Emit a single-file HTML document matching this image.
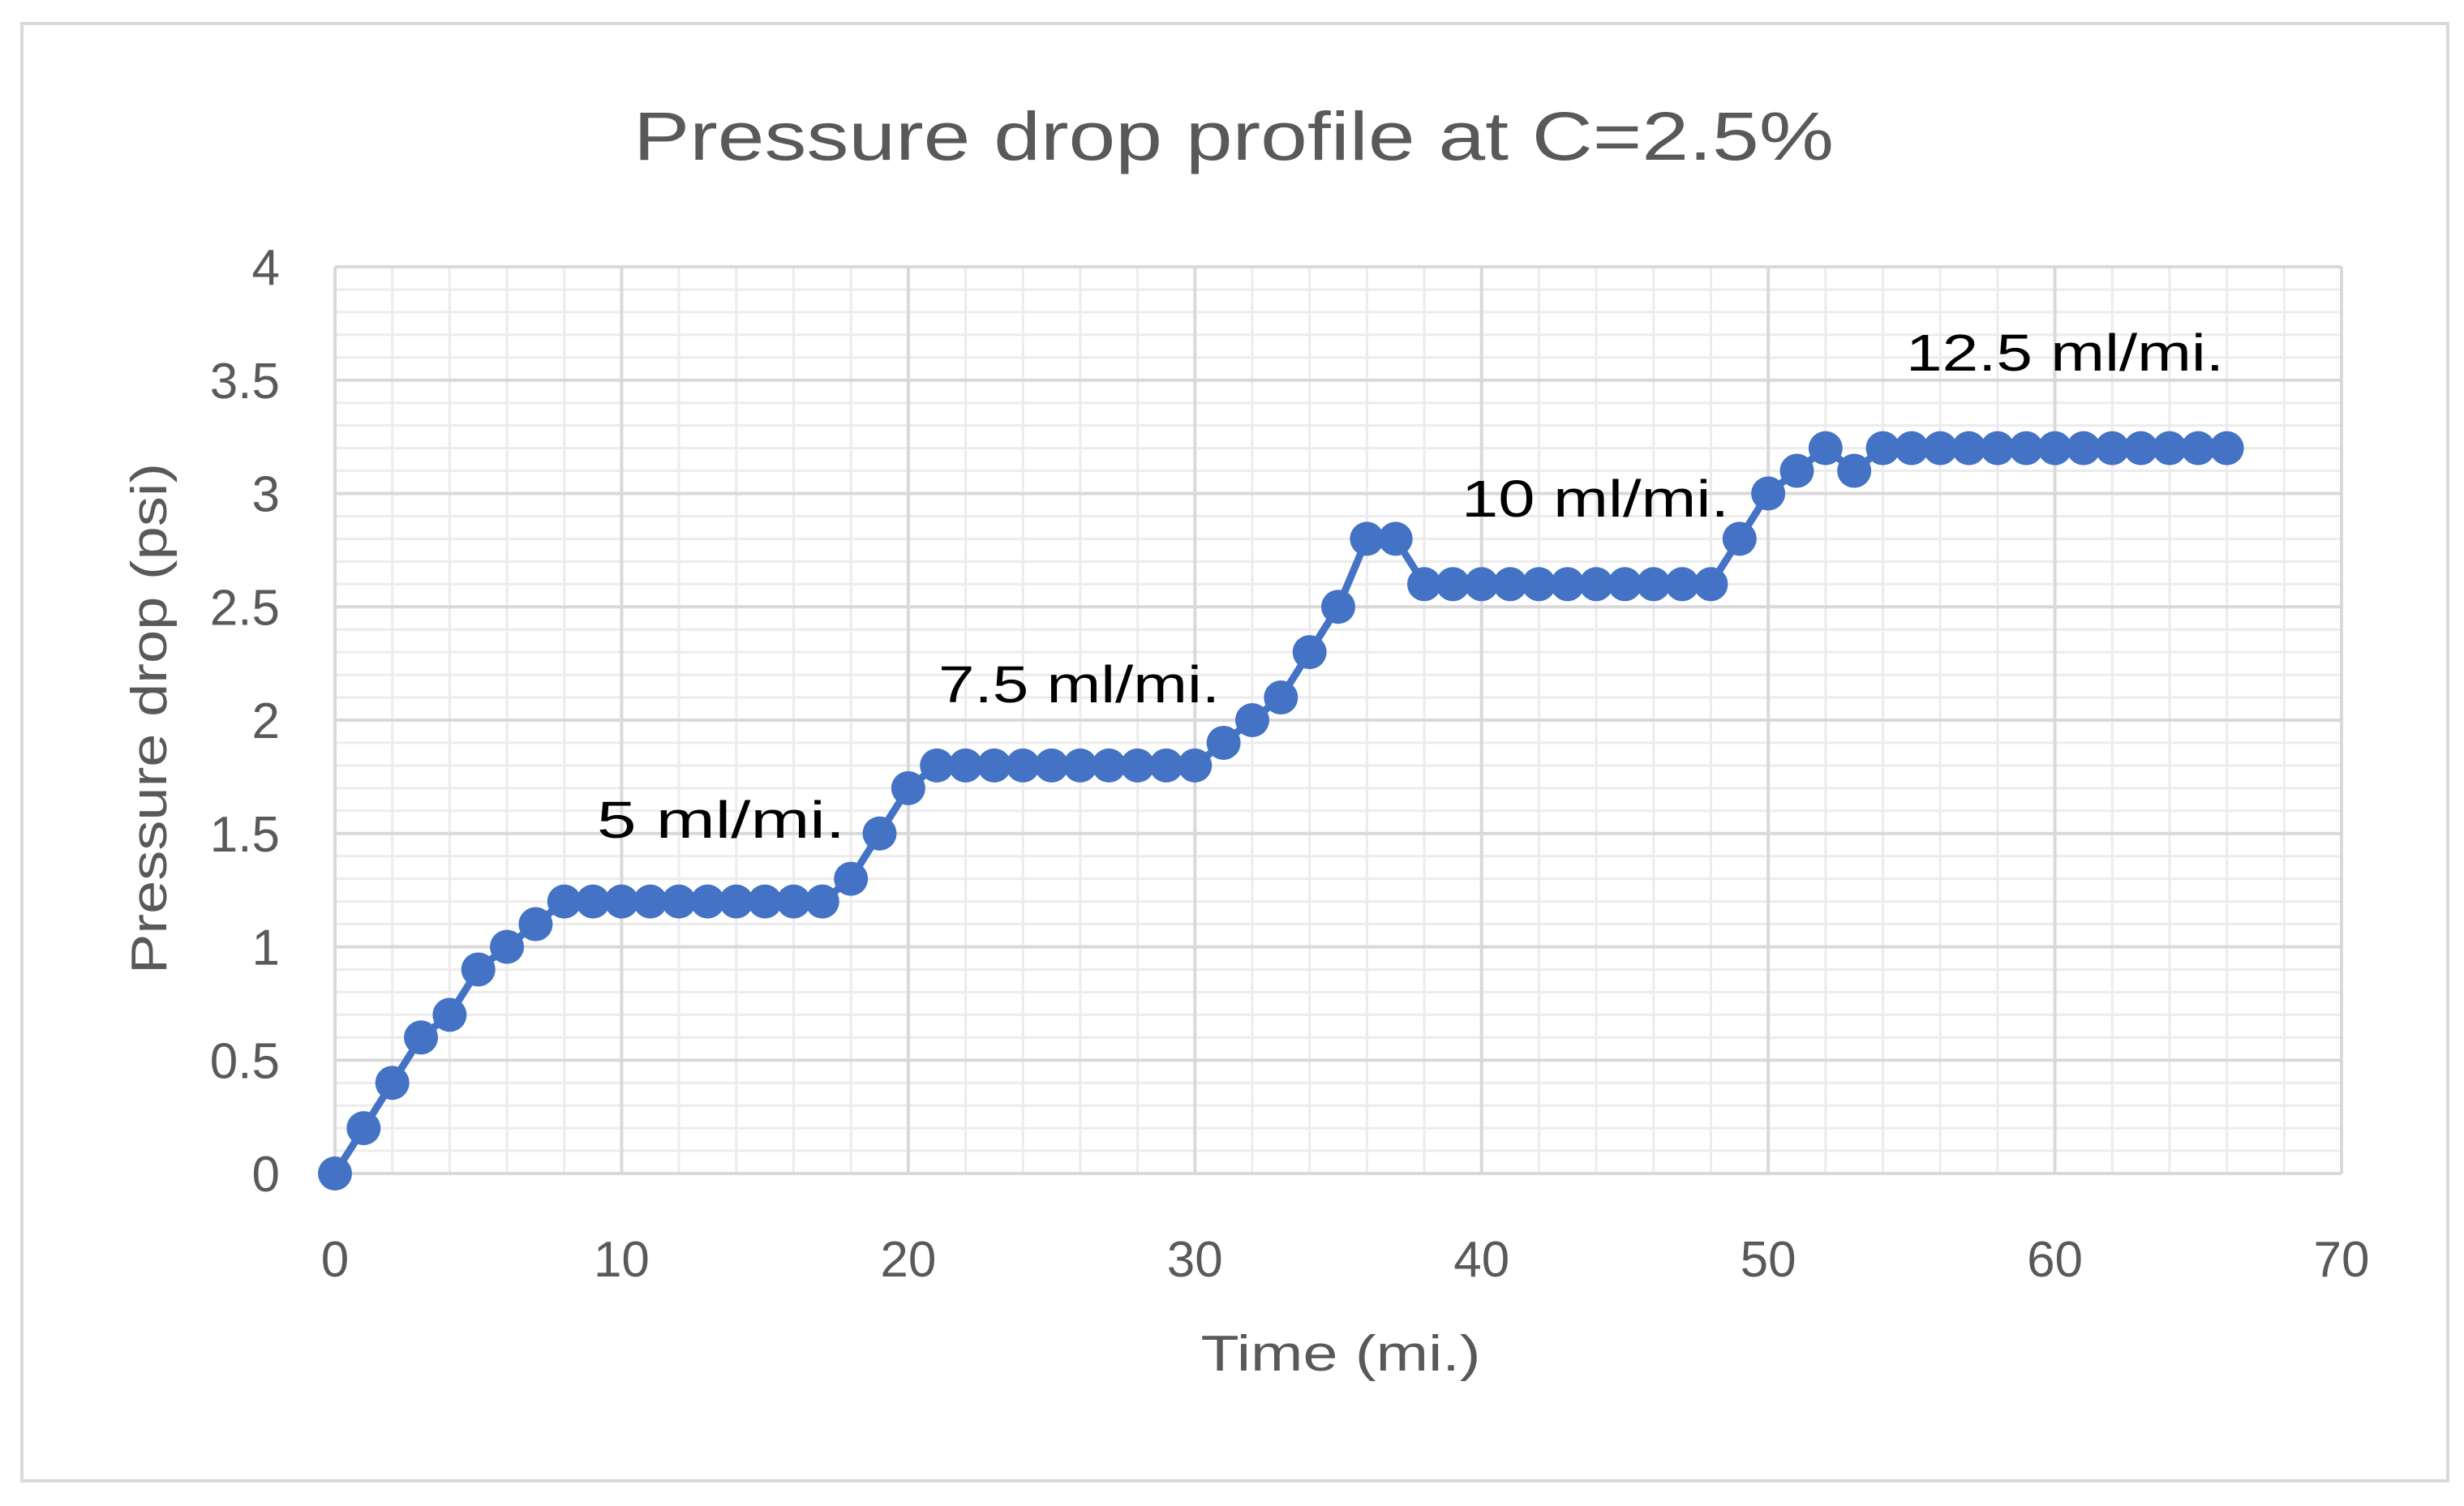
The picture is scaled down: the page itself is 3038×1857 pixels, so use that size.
<!DOCTYPE html>
<html><head><meta charset="utf-8"><style>
html,body{margin:0;padding:0;background:#fff;}
svg{display:block;font-family:"Liberation Sans",sans-serif;}
</style></head><body>
<svg id="chart" width="3038" height="1857" viewBox="0 0 3038 1857" xmlns="http://www.w3.org/2000/svg">
<rect x="0" y="0" width="3038" height="1857" fill="#fff"/>
<rect x="27" y="29" width="2991" height="1797" fill="none" stroke="#d9d9d9" stroke-width="4"/>
<text x="1521" y="197" text-anchor="middle" font-size="84" fill="#595959" textLength="1480" lengthAdjust="spacingAndGlyphs">Pressure drop profile at C=2.5%</text>
<g id="grid"></g>
<g id="axes"></g>
<g id="series"></g>
<text x="1653" y="1690" text-anchor="middle" font-size="62" fill="#595959" textLength="345" lengthAdjust="spacingAndGlyphs">Time (mi.)</text>
<text transform="translate(205,886) rotate(-90)" text-anchor="middle" font-size="62" fill="#595959" textLength="630" lengthAdjust="spacingAndGlyphs">Pressure drop (psi)</text>
<text x="736" y="1033" font-size="64" fill="#000" textLength="306" lengthAdjust="spacingAndGlyphs">5 ml/mi.</text>
<text x="1157" y="866" font-size="64" fill="#000" textLength="347" lengthAdjust="spacingAndGlyphs">7.5 ml/mi.</text>
<text x="1802" y="637" font-size="64" fill="#000" textLength="330" lengthAdjust="spacingAndGlyphs">10 ml/mi.</text>
<text x="2350" y="457" font-size="64" fill="#000" textLength="392" lengthAdjust="spacingAndGlyphs">12.5 ml/mi.</text>
</svg>
<script>
const xValues = [0,1,2,3,4,5,6,7,8,9,10,11,12,13,14,15,16,17,18,19,20,21,22,23,24,25,26,27,28,29,30,31,32,33,34,35,36,37,38,39,40,41,42,43,44,45,46,47,48,49,50,51,52,53,54,55,56,57,58,59,60,61,62,63,64,65,66];
const yValues = [0,0.2,0.4,0.6,0.7,0.9,1.0,1.1,1.2,1.2,1.2,1.2,1.2,1.2,1.2,1.2,1.2,1.2,1.3,1.5,1.7,1.8,1.8,1.8,1.8,1.8,1.8,1.8,1.8,1.8,1.8,1.9,2.0,2.1,2.3,2.5,2.8,2.8,2.6,2.6,2.6,2.6,2.6,2.6,2.6,2.6,2.6,2.6,2.6,2.8,3.0,3.1,3.2,3.1,3.2,3.2,3.2,3.2,3.2,3.2,3.2,3.2,3.2,3.2,3.2,3.2,3.2];
const xTicks = [0,10,20,30,40,50,60,70];
const yTicks = [0,0.5,1,1.5,2,2.5,3,3.5,4];
const yTickLabels = ["0","0.5","1","1.5","2","2.5","3","3.5","4"];

const L=413,R=2887,T=329,B=1447,XMAX=70,YMAX=4;
function sx(v){return L+(R-L)*v/XMAX;}
function sy(v){return B-(B-T)*v/YMAX;}
const NS="http://www.w3.org/2000/svg";
function mk(tag,attrs,parent){const e=document.createElementNS(NS,tag);for(const k in attrs)e.setAttribute(k,attrs[k]);parent.appendChild(e);return e;}
const grid=document.getElementById('grid'),axes=document.getElementById('axes'),series=document.getElementById('series');
for(let i=0;i<=35;i++){const v=i*2;if(v%10===0)continue;
  const l=mk('line',{x1:sx(v),x2:sx(v),y1:T,y2:B,stroke:'#ececec','stroke-width':3},grid);
  
  }
for(let i=0;i<=40;i++){if(i%5===0)continue;const v=i*0.1;
  const l=mk('line',{x1:L,x2:R,y1:sy(v),y2:sy(v),stroke:'#ececec','stroke-width':3},grid);
  
  }
xTicks.forEach(v=>{const l=mk('line',{x1:sx(v),x2:sx(v),y1:T,y2:B,stroke:'#d9d9d9','stroke-width':4},grid);
  
  });
yTicks.forEach(v=>{const l=mk('line',{x1:L,x2:R,y1:sy(v),y2:sy(v),stroke:'#d9d9d9','stroke-width':4},grid);
  
  });
xTicks.forEach(v=>{const t=mk('text',{x:sx(v),y:1574,'text-anchor':'middle','font-size':62,fill:'#595959'},axes);t.textContent=String(v);
  
  });
yTicks.forEach((v,i)=>{const t=mk('text',{x:345,y:sy(v)+22,'text-anchor':'end','font-size':62,fill:'#595959'},axes);t.textContent=yTickLabels[i];
  
  });
const pts=xValues.map((x,i)=>sx(x)+','+sy(yValues[i])).join(' ');
const pl=mk('polyline',{points:pts,fill:'none',stroke:'#4472c4','stroke-width':9,'stroke-linejoin':'round'},series);


xValues.forEach((x,i)=>{const c=mk('circle',{cx:sx(x),cy:sy(yValues[i]),r:21,fill:'#4472c4'},series);
  
  });
</script>
</body></html>
